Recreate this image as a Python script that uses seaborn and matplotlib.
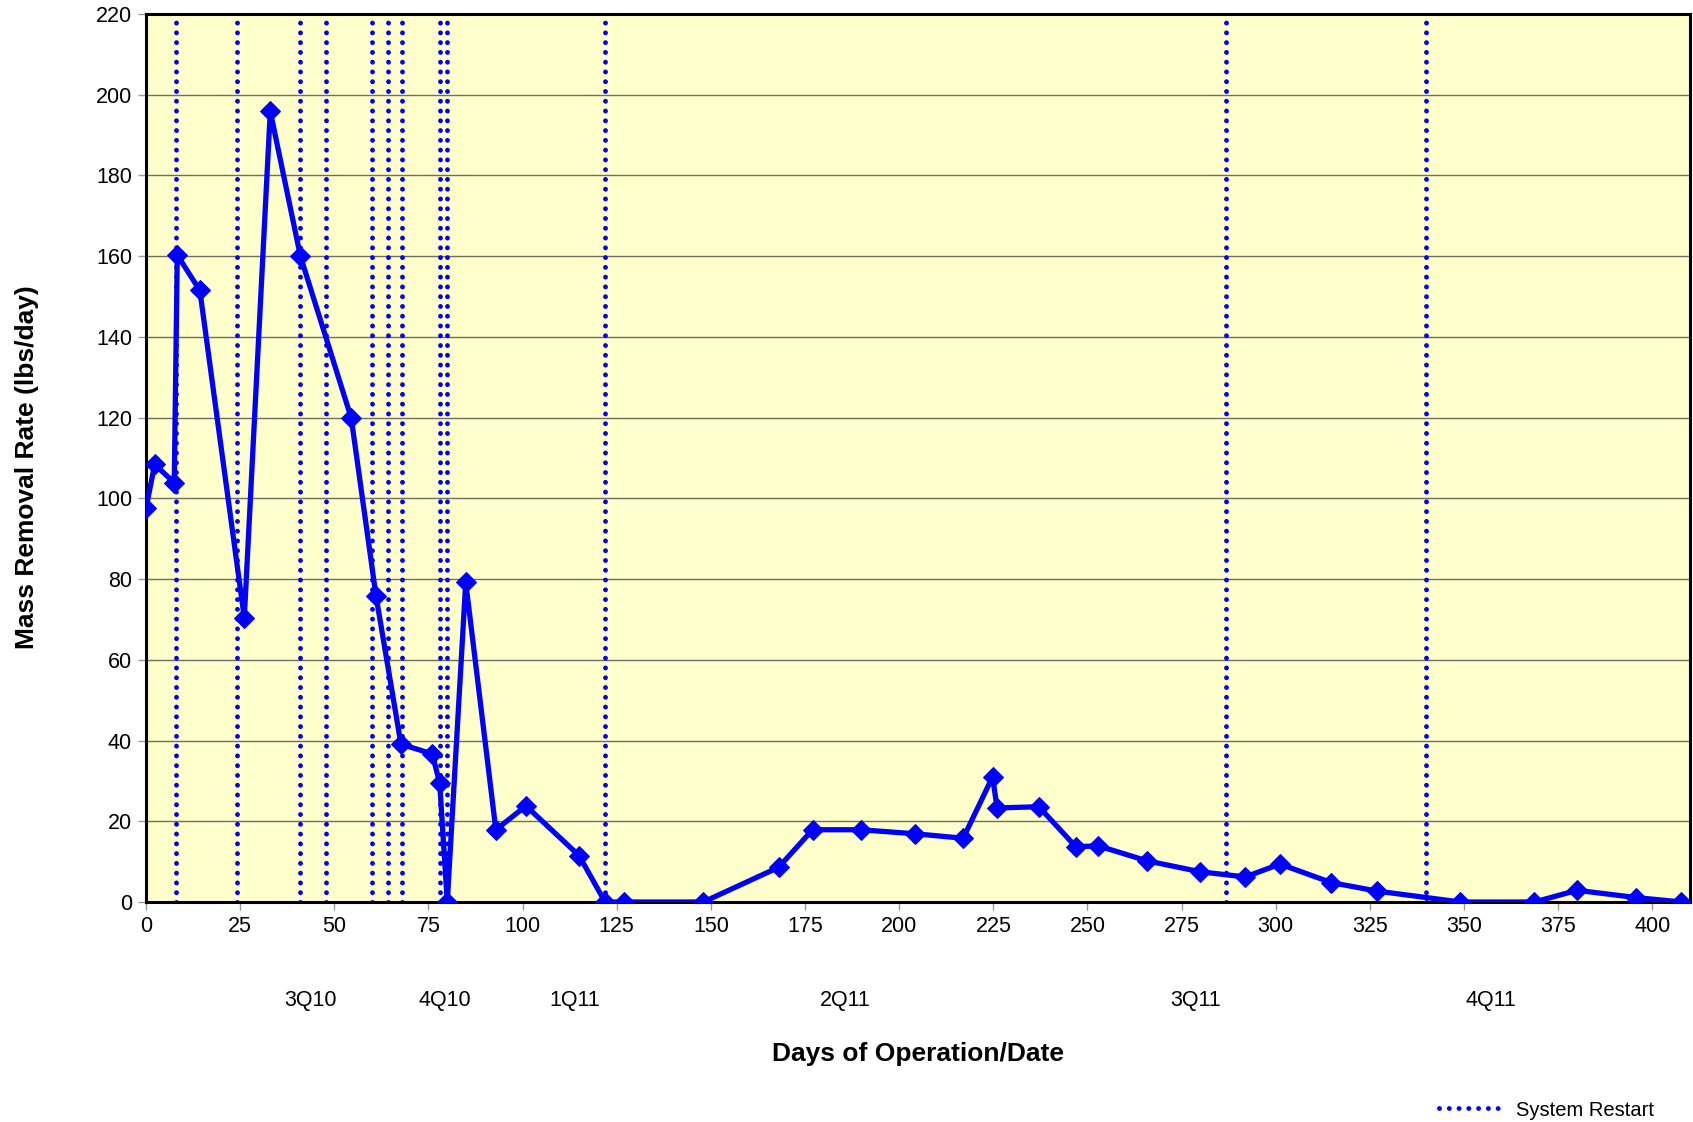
import matplotlib
matplotlib.use("Agg")
import matplotlib.pyplot as plt
import seaborn as sns
import pandas as pd
from matplotlib.lines import Line2D

days = [0, 2.3, 7.5, 8.3, 14.3, 26.1, 33.0, 41.0, 54.5, 61.1, 67.7, 76.0, 78.0, 80.0,
        84.9, 92.9, 100.9, 115.0, 121.9, 127.0, 148.0, 168.0, 177.0, 189.8, 204.2,
        217.0, 224.8, 226.0, 237.1, 246.9, 252.9, 265.8, 279.9, 291.9, 301.1, 314.8,
        326.9, 349.0, 368.7, 380.0, 395.7, 407.7]
rate = [97.5, 108.4, 103.9, 160.3, 151.5, 70.4, 195.9, 160.0, 119.9, 75.7, 39.1, 36.7,
        29.4, 0.0, 79.2, 17.9, 23.8, 11.5, 0.0, 0.0, 0.0, 8.6, 17.9, 17.9, 16.9, 15.8,
        31.0, 23.3, 23.6, 13.7, 13.9, 10.2, 7.5, 6.2, 9.4, 4.8, 2.7, 0.0, 0.0, 2.9,
        1.1, 0.0]
restarts = [8.0, 24.1, 41.0, 47.9, 59.9, 64.2, 68.0, 78.0, 80.0, 121.9, 286.7, 339.8]
quarter_labels = ["3Q10", "4Q10", "1Q11", "2Q11", "3Q11", "4Q11"]
quarter_pos = [43.6, 79.4, 113.8, 185.8, 278.7, 357.0]

sns.set_theme(style="white")
plt.rcParams['font.family'] = ['Liberation Sans', 'DejaVu Sans']
plt.rcParams['text.color'] = 'black'
plt.rcParams['axes.labelcolor'] = 'black'
plt.rcParams['xtick.color'] = 'black'
plt.rcParams['ytick.color'] = 'black'

fig = plt.figure(figsize=(16.93, 11.22), dpi=100)
ax = fig.add_axes([146/1693, 1-902/1122, (1690-146)/1693, (902-14)/1122])
ax.set_facecolor("#FFFFCC")

df = pd.DataFrame({"day": days, "rate": rate})

dot_style = (0, (0.01, 2.0))
for r in restarts:
    ax.axvline(r, color="#0000FF", lw=3.5, linestyle=dot_style,
               dash_capstyle="round", zorder=2)

sns.lineplot(data=df, x="day", y="rate", ax=ax, color="#0000FF", lw=3.8,
             marker="D", markersize=10.5, markeredgecolor="#0000FF", zorder=3,
             estimator=None, sort=False)

ax.set_xlim(0, 410)
ax.set_ylim(0, 220)
ax.set_xticks(range(0, 401, 25))
ax.set_yticks(range(0, 221, 20))
ax.yaxis.grid(True, color="#6f6f5f", lw=1.0)
ax.xaxis.grid(False)
ax.set_axisbelow(True)
ax.tick_params(axis="both", labelsize=15.5, labelcolor="black", length=6, width=1,
               direction="out", bottom=True, left=True, color="#999999", pad=4)
for s in ax.spines.values():
    s.set_color("black")
    s.set_linewidth(2.2)

ax.set_xlabel("Days of Operation/Date", fontsize=19, fontweight="bold")
ax.set_ylabel("Mass Removal Rate (lbs/day)", fontsize=19, fontweight="bold")
ax.xaxis.set_label_coords(0.5, -0.158)
ax.yaxis.set_label_coords(-0.069, 0.49)

for lab, pos in zip(quarter_labels, quarter_pos):
    ax.text(pos, -24.5, lab, ha="center", va="center", fontsize=15.5,
            transform=ax.transData, clip_on=False)

handle = Line2D([], [], color="#0000FF", lw=3.5, linestyle=dot_style,
                dash_capstyle="round")
fig.legend([handle], ["System Restart"], loc="center right",
           bbox_to_anchor=(1672/1693, 1 - 1110/1122), frameon=False,
           fontsize=14.5, handlelength=3.1, handletextpad=0.7)

fig.savefig("out.png", dpi=100)
